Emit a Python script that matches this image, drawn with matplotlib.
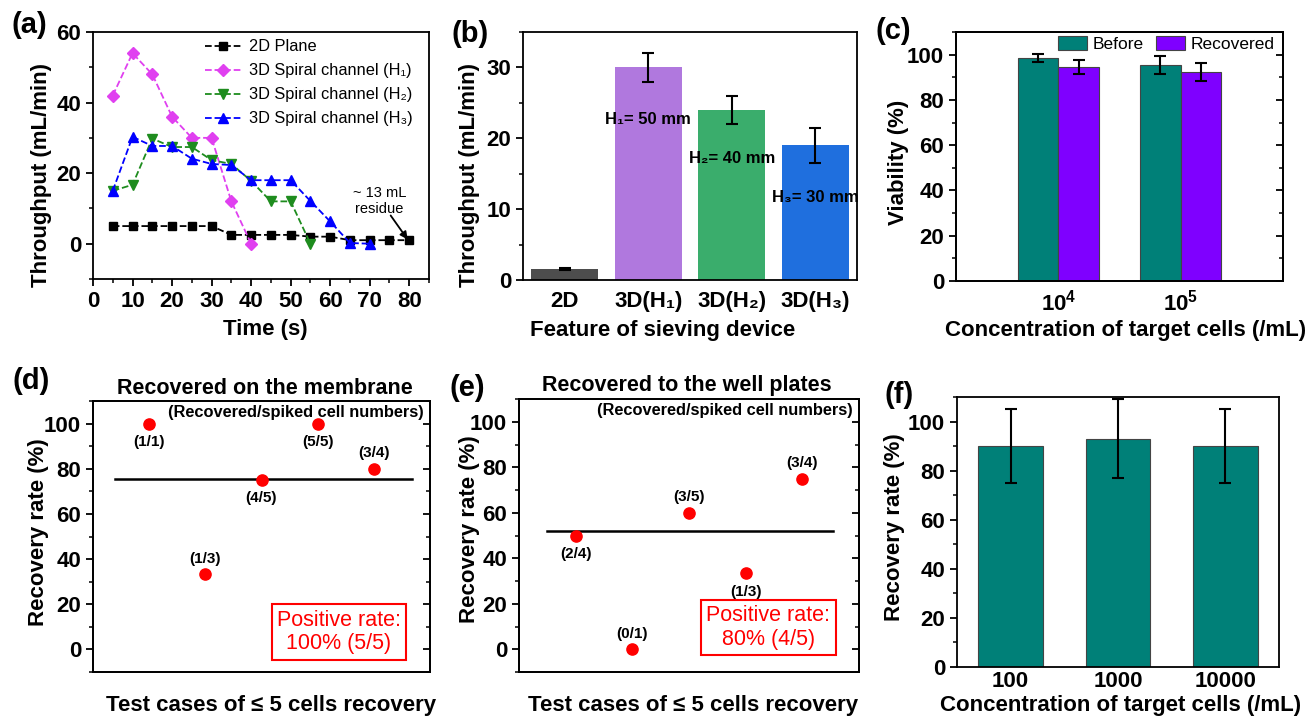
import numpy as np
import matplotlib
matplotlib.use('Agg')
import matplotlib.pyplot as plt
from matplotlib.ticker import MultipleLocator

plt.rcParams['font.family'] = ['Liberation Sans', 'DejaVu Sans']
plt.rcParams['mathtext.fontset'] = 'custom'
plt.rcParams['mathtext.rm'] = 'Liberation Sans'
plt.rcParams['mathtext.bf'] = 'Liberation Sans:bold'
plt.rcParams['axes.linewidth'] = 1.3

# ---- data ----
# (a) throughput over time
time_2d = [5, 10, 15, 20, 25, 30, 35, 40, 45, 50, 55, 60, 65, 70, 75, 80]
thr_2d = [5, 5, 5, 5, 5, 5, 2.5, 2.5, 2.5, 2.5, 2, 2, 1, 1, 1, 1]
time_h1 = [5, 10, 15, 20, 25, 30, 35, 40]
thr_h1 = [42, 54, 48, 36, 30, 30, 12, 0]
time_h2 = [5, 10, 15, 20, 25, 30, 35, 40, 45, 50, 55]
thr_h2 = [15, 16.7, 29.8, 27.4, 27.4, 23.7, 22.6, 17.8, 12, 12, 0]
time_h3 = [5, 10, 15, 20, 25, 30, 35, 40, 45, 50, 55, 60, 65, 70]
thr_h3 = [15, 30.3, 27.7, 27.7, 24.1, 22.6, 22.3, 18, 18, 18, 12.1, 6.3, 0.2, 0]

# (b) throughput per device
devices = ['2D', '3D(H₁)', '3D(H₂)', '3D(H₃)']
dev_thr = [1.5, 30, 24, 19]
dev_err = [0.15, 2, 2, 2.5]
dev_notes = ['', 'H₁= 50 mm', 'H₂= 40 mm', 'H₃= 30 mm']
dev_note_y = [0, 22.7, 17.2, 11.7]

# (c) viability
conc_c = [r'$\mathbf{10^4}$', r'$\mathbf{10^5}$']
via_before = [98.5, 95.3]
via_before_err = [1.6, 4]
via_recov = [94.5, 92.5]
via_recov_err = [3, 4]

# (d) recovered on the membrane
rate_d = [100, 33.3, 75, 100, 80]
lab_d = ['(1/1)', '(1/3)', '(4/5)', '(5/5)', '(3/4)']
above_d = [False, True, False, False, True]
mean_d = 75.5

# (e) recovered to the well plates
rate_e = [50, 0, 60, 33.3, 75]
lab_e = ['(2/4)', '(0/1)', '(3/5)', '(1/3)', '(3/4)']
above_e = [False, True, True, False, True]
mean_e = 51.8

# (f) recovery rate vs concentration
conc_f = ['100', '1000', '10000']
rec_f = [90, 93, 90]
rec_f_err = [15, 16, 15]

W, H = 1307, 716
fig = plt.figure(figsize=(W / 100, H / 100), dpi=100)


def ax_at(l, t, r, b):
    return fig.add_axes([l / W, 1 - b / H, (r - l) / W, (b - t) / H])


def style(ax, xticks=True):
    ax.tick_params(axis='both', which='major', direction='out', length=5, width=1.3,
                   labelsize=16)
    ax.tick_params(axis='both', which='minor', direction='out', length=3, width=1.1)
    for lab in ax.get_xticklabels() + ax.get_yticklabels():
        lab.set_fontweight('bold')
    if not xticks:
        ax.tick_params(axis='x', which='both', length=0)


def set_labels(ax, xl, xpos, yl, ypos, size=16):
    ax.set_xlabel(xl, fontsize=size, fontweight='bold', va='center', ha='center')
    ax.xaxis.set_label_coords(*xpos)
    ax.set_ylabel(yl, fontsize=size, fontweight='bold', va='center', ha='center')
    ax.yaxis.set_label_coords(*ypos)


def mirror_right(ax):
    ax2 = ax.twinx()
    ax2.set_ylim(ax.get_ylim())
    ax2.yaxis.set_major_locator(ax.yaxis.get_major_locator())
    ax2.yaxis.set_minor_locator(ax.yaxis.get_minor_locator())
    ax2.tick_params(axis='y', which='major', direction='in', length=5, width=1.3,
                    labelright=False)
    ax2.tick_params(axis='y', which='minor', direction='in', length=3, width=1.1)
    return ax2


# ---------------- (a) ----------------
ax = ax_at(93, 32, 429, 279)
ax.plot(time_2d, thr_2d, '--s', color='black', ms=5.5, lw=1.3, label='2D Plane')
ax.plot(time_h1, thr_h1, '--D', color='#e040f0', ms=6, lw=1.3, label='3D Spiral channel (H₁)')
ax.plot(time_h2, thr_h2, '--v', color='#1e8c1e', ms=7, lw=1.3, label='3D Spiral channel (H₂)')
ax.plot(time_h3, thr_h3, '--^', color='#0000ff', ms=7, lw=1.3, label='3D Spiral channel (H₃)')
ax.set_xlim(0, 85)
ax.set_ylim(-10, 60)
ax.xaxis.set_major_locator(MultipleLocator(10))
ax.xaxis.set_minor_locator(MultipleLocator(5))
ax.yaxis.set_major_locator(MultipleLocator(20))
ax.yaxis.set_minor_locator(MultipleLocator(10))
style(ax)
ax.legend(loc='upper left', bbox_to_anchor=(0.31, 1.0), frameon=False, fontsize=11.8,
          handlelength=2.3, labelspacing=0.55, borderaxespad=0.05, handletextpad=0.4)
ax.text(72.5, 12.1, '~ 13 mL\nresidue', fontsize=10.5, ha='center', va='center',
        linespacing=1.1)
ax.annotate('', xy=(79.6, 1.2), xytext=(75.3, 8),
            arrowprops=dict(arrowstyle='-|>', color='black', lw=1.3, shrinkA=0,
                            shrinkB=0, mutation_scale=11))
set_labels(ax, 'Time (s)', (0.512, -0.206), 'Throughput (mL/min)', (-0.152, 0.42))
fig.text(29 / W, 1 - 25 / H, '(a)', fontsize=21, fontweight='bold', ha='center', va='center')

# ---------------- (b) ----------------
ax = ax_at(523, 32, 857, 280)
xb = np.arange(len(devices))
ax.bar(xb, dev_thr, width=0.8, color=['#4d4d4d', '#b078de', '#3aad6c', '#1f6fde'])
ax.errorbar(xb, dev_thr, yerr=dev_err, fmt='none', ecolor='black', elinewidth=1.5,
            capsize=4, capthick=1.5)
for i in range(1, len(devices)):
    ax.text(xb[i], dev_note_y[i], dev_notes[i], fontsize=12, fontweight='bold',
            ha='center', va='center')
ax.set_xlim(-0.5, 3.5)
ax.set_ylim(0, 35)
ax.set_xticks(xb)
ax.set_xticklabels(devices)
ax.yaxis.set_major_locator(MultipleLocator(10))
ax.yaxis.set_minor_locator(MultipleLocator(5))
style(ax, xticks=False)
ax.tick_params(axis='x', pad=8)
set_labels(ax, 'Feature of sieving device', (0.417, -0.202), 'Throughput (mL/min)',
           (-0.159, 0.423))
fig.text(470 / W, 1 - 34 / H, '(b)', fontsize=21, fontweight='bold', ha='center', va='center')

# ---------------- (c) ----------------
ax = ax_at(956, 32, 1283, 281)
xc = np.array([1, 2])
bw = 0.33
ax.bar(xc - bw / 2, via_before, width=bw, color='#008078', edgecolor='#444444', lw=0.8,
       label='Before')
ax.bar(xc + bw / 2, via_recov, width=bw, color='#7f00ff', edgecolor='#444444', lw=0.8,
       label='Recovered')
ax.errorbar(xc - bw / 2, via_before, yerr=via_before_err, fmt='none', ecolor='black',
            elinewidth=1.5, capsize=4, capthick=1.5)
ax.errorbar(xc + bw / 2, via_recov, yerr=via_recov_err, fmt='none', ecolor='black',
            elinewidth=1.5, capsize=4, capthick=1.5)
ax.set_xlim(0.16, 2.84)
ax.set_ylim(0, 110)
ax.set_xticks(xc)
ax.set_xticklabels(conc_c)
ax.yaxis.set_major_locator(MultipleLocator(20))
ax.yaxis.set_minor_locator(MultipleLocator(10))
style(ax, xticks=False)
ax.tick_params(axis='x', pad=6)
mirror_right(ax)
ax.legend(loc='upper right', bbox_to_anchor=(1.0, 1.02), ncol=2, frameon=False, fontsize=12.5,
          handlelength=1.7, handleheight=0.9, columnspacing=0.7, handletextpad=0.3,
          borderaxespad=0.1)
set_labels(ax, 'Concentration of target cells (/mL)', (0.52, -0.197), 'Viability (%)',
           (-0.177, 0.478))
fig.text(893 / W, 1 - 31 / H, '(c)', fontsize=21, fontweight='bold', ha='center', va='center')


# ---------------- (d) & (e) ----------------
def scatter_panel(ax, rates, labels, above, mean, line_x, box_xy, box_text, title, title_xy):
    xs = np.arange(1, len(rates) + 1)
    ax.scatter(xs, rates, s=65, color='#ff0000', zorder=3)
    for x, y, lab, up in zip(xs, rates, labels, above):
        ax.annotate(lab, (x, y), xytext=(0, 11 if up else -13), textcoords='offset points',
                    ha='center', va='center', fontsize=11, fontweight='bold')
    ax.plot(line_x, [mean, mean], color='black', lw=1.8)
    ax.set_xlim(0, 6)
    ax.set_ylim(-10, 110)
    ax.set_xticks([])
    ax.yaxis.set_major_locator(MultipleLocator(20))
    ax.yaxis.set_minor_locator(MultipleLocator(10))
    style(ax)
    mirror_right(ax)
    ax.text(0.982, 104.9, '(Recovered/spiked cell numbers)', fontsize=11.8, fontweight='bold',
            ha='right', va='center', transform=ax.get_yaxis_transform())
    ax.text(box_xy[0], box_xy[1], box_text, color='#ff0000', fontsize=15.5, ha='center',
            va='center', linespacing=1.15,
            bbox=dict(boxstyle='square,pad=0.25', fc='white', ec='#ff0000', lw=1.5))
    fig.text(title_xy[0] / W, 1 - title_xy[1] / H, title, fontsize=15.5, fontweight='bold',
             ha='center', va='center')


ax = ax_at(93, 401, 430, 672)
scatter_panel(ax, rate_d, lab_d, above_d, mean_d, [0.4, 5.68], (4.38, 7.7),
              'Positive rate:\n100% (5/5)', 'Recovered on the membrane', (265, 388))
set_labels(ax, 'Test cases of ≤ 5 cells recovery', (0.528, -0.122), 'Recovery rate (%)',
           (-0.163, 0.517))
fig.text(31 / W, 1 - 381 / H, '(d)', fontsize=21, fontweight='bold', ha='center', va='center')

ax = ax_at(519, 399, 859, 672)
scatter_panel(ax, rate_e, lab_e, above_e, mean_e, [0.49, 5.54], (4.40, 9.5),
              'Positive rate:\n80% (4/5)', 'Recovered to the well plates', (687, 386))
set_labels(ax, 'Test cases of ≤ 5 cells recovery', (0.512, -0.121), 'Recovery rate (%)',
           (-0.147, 0.524))
fig.text(467 / W, 1 - 388 / H, '(e)', fontsize=21, fontweight='bold', ha='center', va='center')

# ---------------- (f) ----------------
ax = ax_at(957, 397, 1279, 667)
xf = np.arange(len(conc_f))
ax.bar(xf, rec_f, width=0.6, color='#008078', edgecolor='#444444', lw=0.8)
ax.errorbar(xf, rec_f, yerr=rec_f_err, fmt='none', ecolor='black', elinewidth=1.5,
            capsize=4, capthick=1.5)
ax.set_xlim(-0.5, 2.5)
ax.set_ylim(0, 110)
ax.set_xticks(xf)
ax.set_xticklabels(conc_f)
ax.yaxis.set_major_locator(MultipleLocator(20))
ax.yaxis.set_minor_locator(MultipleLocator(10))
style(ax, xticks=False)
ax.tick_params(axis='x', pad=3)
set_labels(ax, 'Concentration of target cells (/mL)', (0.509, -0.141), 'Recovery rate (%)',
           (-0.193, 0.519))
fig.text(899 / W, 1 - 395 / H, '(f)', fontsize=21, fontweight='bold', ha='center', va='center')

fig.savefig('out.png', dpi=100)
